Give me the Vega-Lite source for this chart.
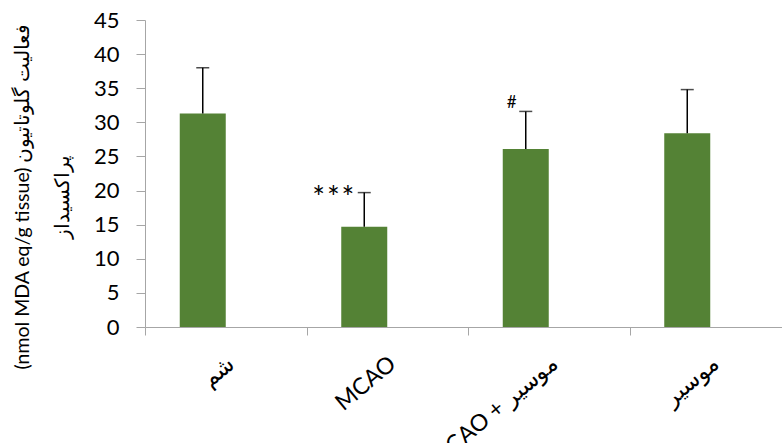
{
  "$schema": "https://vega.github.io/schema/vega-lite/v6.json",
  "width": 637,
  "height": 307,
  "autosize": {"type": "none"},
  "padding": {"left": 145, "top": 20, "right": 0, "bottom": 116},
  "background": "white",
  "config": {
    "view": {"stroke": null},
    "font": "Lato",
    "axisY": {
      "grid": false,
      "domainColor": "#a6a6a6",
      "tickColor": "#a6a6a6",
      "tickSize": 9,
      "labelPadding": 17,
      "labelFontSize": 22,
      "labelColor": "black",
      "labelOverlap": false,
      "titleFontSize": 19.5,
      "titleFontWeight": "normal",
      "titleColor": "black",
      "titleLineHeight": 40,
      "titleAngle": 270,
      "titleBaseline": "top",
      "titleX": -132,
      "titleY": 176
    }
  },
  "data": {
    "values": [
      {"group": "شم", "mean": 31.3, "upper": 38.0},
      {"group": "MCAO", "mean": 14.7, "upper": 19.7, "sig": "*\u200a*\u200a*"},
      {"group": "MCAO + موسیر", "mean": 26.1, "upper": 31.6, "sig": "#"},
      {"group": "موسیر", "mean": 28.4, "upper": 34.8}
    ]
  },
  "encoding": {
    "x": {
      "field": "group",
      "type": "nominal",
      "sort": null,
      "scale": {"range": [0, 646], "paddingInner": 0, "paddingOuter": 0},
      "axis": {
        "title": null,
        "tickBand": "extent",
        "domainColor": "#a6a6a6",
        "tickColor": "#a6a6a6",
        "tickSize": 8,
        "labelAngle": -40,
        "labelAlign": "right",
        "labelBaseline": "top",
        "labelPadding": 17,
        "labelOffset": -2,
        "labelFontSize": 23,
        "labelColor": "black",
        "labelOverlap": false,
        "labelLimit": 300
      }
    }
  },
  "layer": [
    {
      "mark": {"type": "bar", "width": 46, "xOffset": -23, "color": "#548235"},
      "encoding": {
        "y": {
          "field": "mean",
          "type": "quantitative",
          "scale": {"domain": [0, 45], "nice": false},
          "axis": {
            "values": [0, 5, 10, 15, 20, 25, 30, 35, 40, 45],
            "title": ["(nmol MDA eq/g tissue) فعالیت گلوتاتیون", "پراکسیداز"]
          }
        }
      }
    },
    {
      "mark": {"type": "rule", "xOffset": -23, "color": "black", "strokeWidth": 1.5},
      "encoding": {
        "y": {
          "field": "mean",
          "type": "quantitative",
          "axis": {
            "values": [0, 5, 10, 15, 20, 25, 30, 35, 40, 45],
            "title": ["(nmol MDA eq/g tissue) فعالیت گلوتاتیون", "پراکسیداز"]
          }
        },
        "y2": {"field": "upper"}
      }
    },
    {
      "mark": {"type": "tick", "orient": "horizontal", "xOffset": -23, "size": 13, "thickness": 1.5, "color": "black"},
      "encoding": {
        "y": {
          "field": "upper",
          "type": "quantitative",
          "axis": {
            "values": [0, 5, 10, 15, 20, 25, 30, 35, 40, 45],
            "title": ["(nmol MDA eq/g tissue) فعالیت گلوتاتیون", "پراکسیداز"]
          }
        }
      }
    },
    {
      "transform": [{"filter": "datum.upper < 20"}],
      "mark": {"type": "text", "dx": -54, "dy": 15, "fontSize": 30, "baseline": "alphabetic", "align": "center", "color": "black"},
      "encoding": {
        "y": {
          "field": "upper",
          "type": "quantitative",
          "axis": {
            "values": [0, 5, 10, 15, 20, 25, 30, 35, 40, 45],
            "title": ["(nmol MDA eq/g tissue) فعالیت گلوتاتیون", "پراکسیداز"]
          }
        },
        "text": {"field": "sig"}
      }
    },
    {
      "transform": [{"filter": "datum.sig === '#'"}],
      "mark": {"type": "text", "dx": -37, "dy": -3, "fontSize": 17, "baseline": "alphabetic", "align": "center", "color": "black"},
      "encoding": {
        "y": {
          "field": "upper",
          "type": "quantitative",
          "axis": {
            "values": [0, 5, 10, 15, 20, 25, 30, 35, 40, 45],
            "title": ["(nmol MDA eq/g tissue) فعالیت گلوتاتیون", "پراکسیداز"]
          }
        },
        "text": {"field": "sig"}
      }
    }
  ]
}
